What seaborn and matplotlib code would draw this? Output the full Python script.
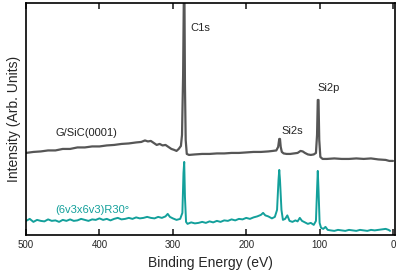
import pandas as pd
import matplotlib
matplotlib.use('Agg')
import matplotlib.pyplot as plt
import seaborn as sns

# XPS survey spectra (binding energy in eV, intensity arb.)
gray_energy = [500, 490, 480, 470, 460, 450, 440, 430, 420, 410, 400, 390,
               380, 370, 360, 350, 343, 338, 334, 330, 326, 322, 318, 314,
               310, 306, 302, 298, 295, 292, 289, 287.5, 286, 285, 284.2,
               283.5, 282.5, 281, 278, 270, 260, 250, 240, 230, 220, 210,
               200, 190, 180, 170, 164, 159, 156.5, 155, 154, 153, 151.5,
               149, 145, 140, 135, 130, 126, 123, 120, 116, 112, 108, 105,
               103.5, 102.5, 101.5, 100.5, 99, 96, 90, 80, 70, 60, 50, 40,
               30, 20, 10, 5, 0]
gray_counts = [82, 83, 83.5, 84.5, 84.5, 86, 86, 87.5, 87.5, 88.5, 88.5, 89.5,
               90, 91, 91.5, 92.5, 93, 94.5, 93.5, 94, 92, 90, 91, 89.5,
               90, 88, 86, 85, 84, 86, 89, 100, 160, 240, 240,
               150, 95, 81, 80, 80.5, 81, 81, 81.5, 81.5, 82, 82,
               82.5, 83, 83, 83.5, 84, 84.5, 88, 96, 96, 88, 83,
               81.5, 81, 81, 81.5, 82, 84, 83.5, 82, 80.5, 80, 80.5, 82,
               100, 135, 135, 95, 78, 76, 76, 76.5, 76, 76, 76.5, 76,
               76.5, 75.5, 75, 74, 74]

teal_energy = [500, 495, 490, 485, 480, 475, 470, 465, 460, 455, 450, 445,
               440, 435, 430, 425, 420, 415, 410, 405, 400, 395, 390, 385,
               380, 375, 370, 365, 360, 355, 350, 345, 340, 335, 330, 325,
               320, 315, 310, 307, 304, 300, 295, 290, 287, 285.5, 284.5,
               283.5, 282, 280, 275, 270, 265, 260, 255, 250, 245, 240, 235,
               230, 225, 220, 215, 210, 205, 200, 195, 190, 185, 180, 177,
               174, 170, 165, 161, 158, 156, 155, 154, 152, 150, 147, 144,
               141, 137, 133, 130, 127, 124, 120, 116, 112, 108, 105, 103.5,
               102.5, 101.5, 100, 98, 95, 92, 89, 85, 80, 75, 70, 65, 60, 55,
               50, 45, 40, 35, 30, 25, 20, 15, 10, 6, 4]
teal_counts = [14, 16, 13, 15, 14, 13.5, 15.5, 14, 14.5, 13, 15, 14,
               15.5, 14, 14.5, 16, 15, 14, 15.5, 15, 16.5, 15, 16, 14.5,
               16, 17, 15.5, 16, 17, 16, 17.5, 16.5, 17, 18, 17, 16.5,
               18, 17, 18.5, 21, 18, 16.5, 15, 16, 22, 62, 73,
               38, 13, 11, 12.5, 11.5, 12, 13, 12, 13.5, 12.5, 14, 13,
               14.5, 14, 15.5, 14.5, 16, 15.5, 17, 16, 17.5, 18.5, 20, 22,
               19.5, 18.5, 16.5, 18, 25, 55, 65, 55, 25, 15, 16, 19.5,
               14, 13, 14.5, 13.5, 17, 14, 12.5, 11, 12, 10, 14, 45,
               64, 45, 12, 7, 6, 8, 5, 4.5, 4, 5, 4.5, 4, 5, 4.5,
               4, 5, 4.5, 4, 5, 4.5, 5, 5.5, 6, 5, 4]

peak_labels = ['C1s', 'Si2s', 'Si2p']
peak_label_x = [276, 137, 88]
peak_label_y = [207, 104, 147]

gray_df = pd.DataFrame({'Energy': gray_energy, 'Counts': gray_counts})
teal_df = pd.DataFrame({'Energy': teal_energy, 'Counts': teal_counts})

sns.set_style('ticks')
plt.rcParams['font.family'] = ['Liberation Sans', 'DejaVu Sans']

fig = plt.figure(figsize=(4.01, 2.76), dpi=100)
ax = fig.add_axes([0.065, 0.149, 0.92, 0.84])

sns.lineplot(data=gray_df, x='Energy', y='Counts', color='#565656',
             linewidth=1.6, estimator=None, ax=ax)
sns.lineplot(data=teal_df, x='Energy', y='Counts', color='#13a09b',
             linewidth=1.4, estimator=None, ax=ax)

ax.set_xlim(500, -2.7)
ax.set_ylim(0, 232)

# peak labels
ax.text(peak_label_x[0], peak_label_y[0], peak_labels[0], fontsize=8,
        va='center', ha='left')
ax.text(peak_label_x[1], peak_label_y[1], peak_labels[1], fontsize=8,
        va='center', ha='center')
ax.text(peak_label_x[2], peak_label_y[2], peak_labels[2], fontsize=8,
        va='center', ha='center')

# sample labels
ax.text(460, 102, 'G/SiC(0001)', fontsize=8, va='center', ha='left',
        color='#222222')
ax.text(460, 25, '(6v3x6v3)R30°', fontsize=8, va='center', ha='left',
        color='#13a09b')

ax.set_xticks([500, 400, 300, 200, 100, 0])
ax.set_yticks([])
ax.tick_params(axis='x', direction='in', top=True, length=4, width=1.2,
               labelsize=7, pad=4)
for s in ax.spines.values():
    s.set_linewidth(1.2)
    s.set_color('black')

ax.set_xlabel('Binding Energy (eV)', fontsize=10)
ax.set_ylabel('Intensity (Arb. Units)', fontsize=10, labelpad=4)

plt.savefig('out.png', dpi=100)
